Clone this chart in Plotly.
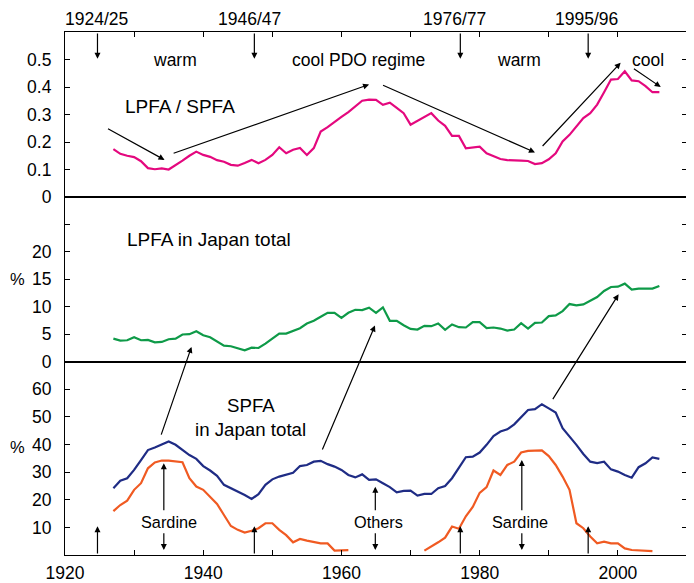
import plotly.graph_objects as go

# ---------------- data ----------------
years = list(range(1927, 2007))

lpfa_spfa_ratio = [
    0.174, 0.157, 0.150, 0.145, 0.130, 0.105, 0.101, 0.104, 0.100, 0.115,
    0.132, 0.150, 0.165, 0.153, 0.146, 0.134, 0.128, 0.117, 0.114, 0.124,
    0.135, 0.123, 0.135, 0.153, 0.181, 0.159, 0.172, 0.178, 0.153, 0.178,
    0.238, 0.254, 0.271, 0.291, 0.309, 0.330, 0.350, 0.354, 0.353, 0.335,
    0.343, 0.324, 0.305, 0.263, 0.278, 0.293, 0.305, 0.278, 0.259, 0.222,
    0.222, 0.177, 0.181, 0.183, 0.159, 0.147, 0.138, 0.134, 0.132, 0.132,
    0.131, 0.120, 0.123, 0.137, 0.159, 0.202, 0.226, 0.256, 0.287, 0.305,
    0.336, 0.381, 0.427, 0.429, 0.457, 0.424, 0.421, 0.403, 0.381, 0.381,
]

lpfa_japan_pct = [
    4.21, 3.85, 3.91, 4.46, 3.91, 3.97, 3.54, 3.60, 4.09, 4.21,
    4.95, 5.01, 5.56, 4.82, 4.46, 3.72, 2.93, 2.81, 2.50, 2.08,
    2.56, 2.50, 3.30, 4.15, 5.13, 5.13, 5.56, 6.11, 6.96, 7.45,
    8.18, 8.91, 8.91, 8.00, 8.91, 9.46, 9.40, 9.83, 8.91, 9.90,
    7.45, 7.45, 6.65, 5.98, 5.86, 6.53, 6.47, 6.96, 5.80, 6.78,
    6.29, 6.23, 7.20, 7.20, 6.11, 6.23, 6.04, 5.68, 5.86, 7.02,
    6.04, 7.08, 7.14, 8.30, 8.42, 9.22, 10.50, 10.26, 10.44, 11.05,
    11.78, 12.88, 13.61, 13.67, 14.22, 13.13, 13.31, 13.31, 13.31, 13.80,
]

spfa_japan_pct = [
    24.2, 26.9, 27.8, 30.8, 34.4, 38.0, 38.9, 39.9, 41.1, 39.9,
    38.0, 36.2, 34.8, 32.2, 30.6, 28.7, 25.4, 24.2, 22.9, 21.7,
    20.3, 22.0, 25.4, 27.4, 28.4, 29.2, 29.8, 32.2, 32.6, 33.8,
    34.1, 32.9, 32.0, 30.8, 29.0, 28.1, 29.2, 27.2, 27.4, 26.0,
    24.6, 22.7, 23.2, 23.3, 21.5, 22.1, 22.1, 24.2, 25.0, 27.8,
    31.8, 35.4, 35.6, 37.1, 39.9, 43.1, 44.7, 45.5, 47.3, 49.9,
    52.5, 52.8, 54.6, 53.1, 51.6, 45.9, 43.1, 39.9, 36.6, 33.8,
    33.3, 33.8, 31.0, 30.2, 29.0, 28.0, 31.8, 33.2, 35.3, 34.8,
]

sardine_pct = [
    15.9, 18.1, 19.7, 23.6, 26.0, 31.4, 33.5, 34.2, 34.2, 33.8,
    33.6, 27.8, 24.8, 23.6, 21.1, 18.5, 14.5, 10.5, 9.1, 8.1,
    8.8, 9.7, 11.5, 11.5, 9.1, 7.2, 4.6, 5.8, 5.2, 4.6,
    4.2, 4.2, 1.6, 1.7, 1.8,
    None, None, None, None, None, None, None, None, None, None,
    1.6, 3.0, 4.6, 6.3, 10.3, 9.5, 14.0, 17.4, 22.5, 24.6,
    30.6, 29.0, 32.6, 33.8, 37.1, 37.7, 37.8, 37.9, 35.8, 32.6,
    28.4, 23.6, 11.5, 9.7, 6.7, 4.2, 4.8, 4.2, 4.2, 2.4,
    1.8, 1.6, 1.4, 1.4,
    None,
]

regime_years = [1924.7, 1947.4, 1977.2, 1995.7]
regime_labels = ["1924/25", "1946/47", "1976/77", "1995/96"]
regime_label_x = [1924.6, 1946.7, 1976.4, 1995.5]

x_tickvals = [1920, 1930, 1940, 1950, 1960, 1970, 1980, 1990, 2000, 2010]
x_ticktext = ["1920", "", "1940", "", "1960", "", "1980", "", "2000", ""]

# ---------------- styles ----------------
FONT = "Liberation Sans, Arial, Helvetica, sans-serif"
PINK = "#E4087E"
GREEN = "#0E9A48"
BLUE = "#1F2C85"
ORANGE = "#F05A22"
LW = 2.2

fig = go.Figure()
fig.add_trace(go.Scatter(x=years, y=lpfa_spfa_ratio, mode="lines",
                         line=dict(color=PINK, width=LW), xaxis="x3", yaxis="y3"))
fig.add_trace(go.Scatter(x=years, y=lpfa_japan_pct, mode="lines",
                         line=dict(color=GREEN, width=LW), xaxis="x2", yaxis="y2"))
fig.add_trace(go.Scatter(x=years, y=spfa_japan_pct, mode="lines",
                         line=dict(color=BLUE, width=LW), xaxis="x", yaxis="y"))
fig.add_trace(go.Scatter(x=years, y=sardine_pct, mode="lines", connectgaps=False,
                         line=dict(color=ORANGE, width=LW), xaxis="x", yaxis="y"))

d_bot = 193.3 / 523
d_mid = (193.3 + 164.7) / 523

axis_common = dict(showgrid=False, zeroline=False, showline=True, linecolor="black",
                   linewidth=1.2, tickcolor="black", tickwidth=1, ticklen=5,
                   automargin=False,
                   tickfont=dict(family=FONT, size=17.5, color="black"))

# the page body has an 8px default margin, so the figure is 8px smaller than the window
fig.update_layout(
    template="none",
    width=686, height=575,
    margin=dict(l=57, r=7, t=24, b=28, autoexpand=False),
    paper_bgcolor="white", plot_bgcolor="white",
    showlegend=False,
    font=dict(family=FONT, size=16, color="black"),
    xaxis=dict(range=[1920, 2010], domain=[0, 1], anchor="y", ticks="inside",
               tickvals=x_tickvals, ticktext=x_ticktext, mirror=True,
               ticklabelstandoff=2, **axis_common),
    xaxis2=dict(range=[1920, 2010], domain=[0, 1], anchor="y2", ticks="",
                showticklabels=False, mirror=True, matches="x", **axis_common),
    xaxis3=dict(range=[1920, 2010], domain=[0, 1], anchor="y3", side="top",
                ticks="inside", tickvals=x_tickvals, showticklabels=False,
                mirror=True, matches="x", **axis_common),
    yaxis=dict(range=[0, 70], domain=[0, d_bot], anchor="x", ticks="inside",
               tickvals=[10, 20, 30, 40, 50, 60], ticktext=["10", "20", "30", "40", "50", "60"],
               mirror="ticks", ticklabelstandoff=9, **axis_common),
    yaxis2=dict(range=[0, 30], domain=[d_bot, d_mid], anchor="x2", ticks="inside",
                tickvals=[0, 5, 10, 15, 20, 25], ticktext=["0", "5", "10", "15", "20", ""],
                mirror="ticks", ticklabelstandoff=9, **axis_common),
    yaxis3=dict(range=[0, 0.6], domain=[d_mid, 1], anchor="x3", ticks="inside",
                tickvals=[0, 0.1, 0.2, 0.3, 0.4, 0.5], ticktext=["0", "0.1", "0.2", "0.3", "0.4", "0.5"],
                mirror="ticks", ticklabelstandoff=9, **axis_common),
)

ann = []


def arrow(hx, hy, tx, ty, xr, yr, head=2, size=1.0):
    ann.append(dict(x=hx, y=hy, ax=tx, ay=ty, xref=xr, yref=yr, axref=xr, ayref=yr,
                    text="", showarrow=True, arrowhead=head, arrowsize=size,
                    arrowwidth=1.2, arrowcolor="black", standoff=0, startstandoff=0))


def label(x, y, text, xr, yr, size=16, xanchor="center"):
    ann.append(dict(x=x, y=y, xref=xr, yref=yr, text=text, showarrow=False,
                    xanchor=xanchor, yanchor="middle",
                    font=dict(family=FONT, size=size, color="black")))


# regime-shift labels above the frame and arrows
for lx, txt in zip(regime_label_x, regime_labels):
    label(lx, 1.0249, txt, "x3", "paper", size=17.5)
for rx in regime_years:
    arrow(rx, 0.503, rx, 0.6, "x3", "y3")
    arrow(rx, 10.4, rx, 0.0, "x", "y")

# top panel texts
label(1935.9, 0.50, "warm", "x3", "y3", size=17.5)
label(1962.5, 0.50, "cool PDO regime", "x3", "y3", size=17.5)
label(1985.7, 0.50, "warm", "x3", "y3", size=17.5)
label(2004.4, 0.50, "cool", "x3", "y3", size=17.5)
label(1936.7, 0.328, "LPFA / SPFA", "x3", "y3", size=19)

# top panel trend arrows
arrow(1934.4, 0.135, 1926.0, 0.251, "x3", "y3")
arrow(1964.0, 0.409, 1935.5, 0.157, "x3", "y3")
arrow(1988.0, 0.162, 1965.8, 0.409, "x3", "y3")
arrow(2000.4, 0.488, 1988.9, 0.180, "x3", "y3")
arrow(2006.2, 0.400, 2002.1, 0.470, "x3", "y3")

# middle panel
label(-0.076, 15.0, "%", "paper", "y2", size=16.5)
label(1940.8, 22.3, "LPFA in Japan total", "x2", "y2", size=19)

# cross-panel arrows (SPFA -> LPFA)
arrow(1938.3, 2.69, 1933.85, -13.55, "x2", "y2")
arrow(1964.85, 6.59, 1957.15, -16.25, "x2", "y2")
arrow(2000.1, 12.27, 1990.45, -7.09, "x2", "y2")

# bottom panel
label(-0.076, 39.1, "%", "paper", "y", size=16.5)
label(1946.9, 54.3, "SPFA", "x", "y", size=18.7)
label(1946.9, 45.3, "in Japan total", "x", "y", size=18.7)

for lx, ax_x, txt, top in [(1935.0, 1934.3, "Sardine", 33.2),
                           (1965.3, 1964.9, "Others", 24.7),
                           (1985.9, 1986.1, "Sardine", 34.4)]:
    label(lx, 12.1, txt, "x", "y", size=16.3)
    arrow(ax_x, top, ax_x, 15.7, "x", "y")
    arrow(ax_x, 1.8, ax_x, 8.4, "x", "y")

fig.update_layout(annotations=ann)
fig.write_html("out.html")
